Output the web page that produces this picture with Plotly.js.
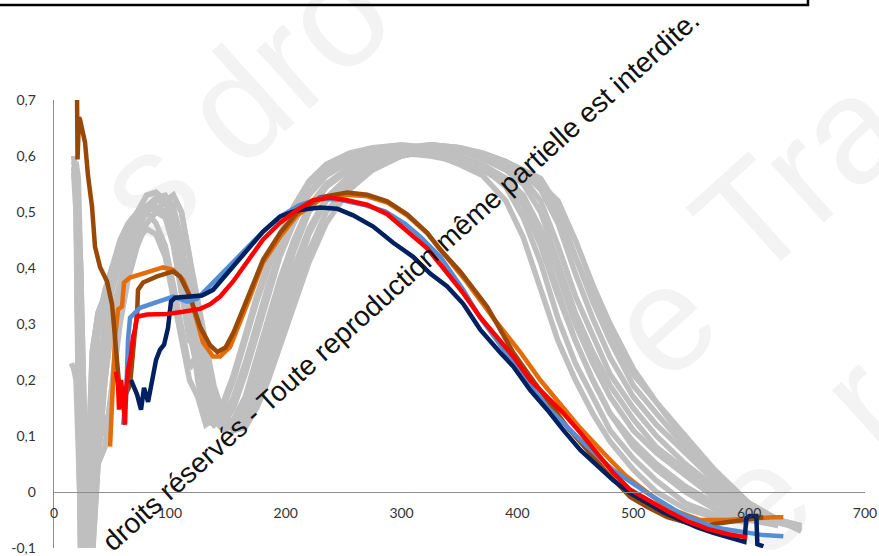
<!DOCTYPE html>
<html><head><meta charset="utf-8">
<script src="https://cdn.plot.ly/plotly-3.0.1.min.js"></script>
<style>html,body{margin:0;padding:0;background:#fff}#chart{width:879px;height:556px}</style>
</head><body><div id="chart"></div>
<script>
// ---- axis ticks ----
const xTickVals = [0, 100, 200, 300, 400, 500, 600, 700];
const xTickText = ['0', '100', '200', '300', '400', '500', '600', '700'];
const yTickVals = [-0.1, 0, 0.1, 0.2, 0.3, 0.4, 0.5, 0.6, 0.7];
const yTickText = ['-0,1', '0', '0,1', '0,2', '0,3', '0,4', '0,5', '0,6', '0,7'];

// ---- highlighted series ----
const brownX = [19, 19.9, 20.3, 21.6, 22.5, 26.8, 29.4, 32.8, 35.4, 39.7, 45.8, 50.1, 52.7, 55.3, 57.0, 60.5, 65.6, 70.0, 71.7, 72.5, 76.9, 88.9, 102.8, 108.8, 117.4, 126.1, 134.7, 141, 148, 155, 162, 169, 180.5, 195.2, 209.8, 229.7, 253, 270.3, 287.6, 304.8, 322.1, 333.3, 350.6, 373.9, 396.4, 411, 425.7, 443, 460.3, 477.5, 497.4, 512.1, 529.4, 546.6, 563.9, 581.2, 598.4, 612.3];
const brownY = [0.716, 0.701, 0.594, 0.669, 0.665, 0.624, 0.564, 0.51, 0.438, 0.402, 0.376, 0.335, 0.277, 0.218, 0.174, 0.168, 0.191, 0.29, 0.317, 0.361, 0.374, 0.385, 0.394, 0.385, 0.349, 0.295, 0.262, 0.25, 0.258, 0.285, 0.32, 0.358, 0.415, 0.463, 0.499, 0.526, 0.535, 0.531, 0.519, 0.496, 0.463, 0.433, 0.394, 0.331, 0.249, 0.206, 0.165, 0.116, 0.075, 0.034, -0.009, -0.027, -0.045, -0.055, -0.059, -0.054, -0.047, -0.045];

const orangeX = [48.4, 50.1, 52.7, 55.3, 58.7, 60.4, 65.6, 82.9, 94.1, 102.8, 111.4, 117.4, 123.5, 128.7, 137.3, 143.4, 152, 160.6, 169.3, 180.5, 195.2, 209.8, 229.7, 253, 270.3, 287.6, 304.8, 322.1, 339.4, 356.6, 379.1, 402.4, 419.7, 436.9, 454.2, 477.5, 493.1, 506, 520.7, 534.5, 557.9, 581.2, 598.4, 620.9, 629.5];
const orangeY = [0.081, 0.159, 0.277, 0.326, 0.331, 0.374, 0.383, 0.394, 0.401, 0.397, 0.379, 0.349, 0.308, 0.267, 0.242, 0.242, 0.259, 0.302, 0.349, 0.41, 0.456, 0.494, 0.522, 0.531, 0.528, 0.517, 0.494, 0.462, 0.419, 0.374, 0.311, 0.25, 0.2, 0.156, 0.114, 0.063, 0.03, 0.009, -0.014, -0.032, -0.05, -0.05, -0.047, -0.045, -0.045];

const blueX = [59.6, 62.2, 63.9, 65.6, 74.3, 88.9, 102.8, 114.9, 123.5, 137.3, 152, 166.7, 180.5, 195.2, 212.4, 229.7, 246.9, 266.8, 285.8, 303.1, 316.1, 333.3, 353.2, 367.9, 396.4, 425.7, 454.2, 482.7, 512.1, 540.6, 569.1, 598.4, 612.3, 629.5];
const blueY = [0.12, 0.165, 0.272, 0.311, 0.329, 0.34, 0.349, 0.34, 0.345, 0.374, 0.406, 0.436, 0.465, 0.492, 0.513, 0.524, 0.522, 0.513, 0.501, 0.479, 0.456, 0.42, 0.361, 0.311, 0.231, 0.152, 0.093, 0.039, -0.002, -0.038, -0.063, -0.073, -0.077, -0.079];

const navyX = [66.5, 71.7, 75.1, 77.7, 81.2, 84.6, 88.1, 91.5, 95, 98.4, 101, 104.5, 117.4, 127.8, 137.3, 152, 166.7, 180.5, 195.2, 209.8, 229.7, 244.4, 258.2, 275.5, 292.8, 310, 324.7, 339.4, 353.2, 367.9, 385.1, 396.4, 411, 425.7, 439.5, 454.2, 468.9, 482.7, 497.4, 512.1, 525.9, 540.6, 555.3, 569.1, 583.8, 595.9, 597.6, 600.2, 606.2, 607.1, 612.3];
const navyY = [0.2, 0.174, 0.147, 0.186, 0.161, 0.2, 0.236, 0.254, 0.263, 0.293, 0.34, 0.347, 0.349, 0.351, 0.361, 0.397, 0.433, 0.465, 0.492, 0.503, 0.508, 0.506, 0.494, 0.474, 0.445, 0.42, 0.39, 0.367, 0.336, 0.29, 0.249, 0.224, 0.182, 0.147, 0.111, 0.075, 0.047, 0.021, -0.002, -0.02, -0.036, -0.05, -0.063, -0.073, -0.082, -0.089, -0.047, -0.043, -0.043, -0.093, -0.097];

const redX = [53.5, 55.3, 56.1, 57.9, 59.6, 61.3, 62.2, 63.9, 66.5, 68.2, 69.9, 71.7, 80.3, 97.6, 111.4, 126.1, 134.7, 143.4, 154.6, 166.7, 180.5, 195.2, 209.8, 223.7, 238.3, 253, 270.3, 287.6, 304.8, 322.1, 335.9, 353.2, 367.9, 382.6, 396.4, 411, 425.7, 439.5, 454.2, 468.9, 482.7, 497.4, 512.1, 529.4, 546.6, 563.9, 581.2, 598.4];
const redY = [0.215, 0.191, 0.147, 0.2, 0.165, 0.12, 0.182, 0.218, 0.245, 0.277, 0.29, 0.313, 0.317, 0.318, 0.322, 0.327, 0.335, 0.349, 0.376, 0.411, 0.451, 0.481, 0.504, 0.521, 0.526, 0.521, 0.513, 0.496, 0.465, 0.435, 0.4, 0.355, 0.312, 0.277, 0.242, 0.2, 0.17, 0.141, 0.106, 0.07, 0.034, 0.004, -0.014, -0.034, -0.052, -0.066, -0.075, -0.081];

// ---- grey (other) series: shared x grid, early part + main hump ----
const grayX = [15, 17, 19, 21, 23, 26, 29, 33, 38, 44, 50, 57, 64, 72, 80, 88, 96, 103, 110, 117,
  124, 131, 138, 146, 155, 165, 175, 185, 195, 207, 220, 235, 255, 275, 300, 325, 350, 370, 390, 405, 420, 435, 450, 465, 480, 500, 520, 545, 570, 600, 625, 645];

const grayStartA  = [null, 0.6, 0.57, 0.45, 0.1, -0.15, -0.15, 0.1, 0.3, 0.36, 0.4, 0.43, 0.46, 0.49, 0.51, 0.52, 0.52, 0.5, 0.42, 0.3];
const grayStartA2 = [null, null, 0.59, 0.56, 0.4, 0.0, -0.15, -0.05, 0.2, 0.3, 0.36, 0.41, 0.45, 0.48, 0.51, 0.525, 0.53, 0.51, 0.45, 0.35];
const grayStartB  = [null, 0.58, 0.55, 0.2, -0.12, -0.15, 0.05, 0.25, 0.32, 0.35, 0.38, 0.42, 0.46, 0.5, 0.53, 0.535, 0.52, 0.47, 0.38, 0.28];
const grayStartB2 = [null, 0.57, 0.5, 0.15, -0.1, -0.14, 0.0, 0.18, 0.28, 0.34, 0.4, 0.45, 0.48, 0.5, 0.5, 0.48, 0.44, 0.37, 0.3, 0.22];
const grayStartC  = [0.23, 0.22, 0.2, 0.1, -0.05, -0.12, -0.05, 0.15, 0.2, 0.1, 0.18, 0.3, 0.38, 0.44, 0.48, 0.5, 0.49, 0.44, 0.36, 0.27];
const grayStartD  = [null, 0.57, 0.55, 0.5, 0.3, -0.05, -0.15, -0.1, 0.15, 0.25, 0.32, 0.38, 0.43, 0.47, 0.5, 0.51, 0.5, 0.46, 0.38, 0.3];
const grayStartE  = [null, null, 0.55, 0.5, 0.4, 0.1, -0.1, -0.12, 0.05, 0.2, 0.3, 0.35, 0.4, 0.45, 0.48, 0.5, 0.52, 0.53, 0.5, 0.42];
const grayStartF  = [null, 0.59, 0.56, 0.35, 0.0, -0.13, -0.08, 0.12, 0.05, 0.08, 0.2, 0.32, 0.4, 0.45, 0.47, 0.46, 0.42, 0.35, 0.27, 0.2];

const grayHumpL   = [0.2, 0.13, 0.12, 0.15, 0.2, 0.27, 0.34, 0.4, 0.455, 0.51, 0.55, 0.58, 0.6, 0.61, 0.61, 0.605, 0.585, 0.565, 0.52, 0.455, 0.36, 0.27, 0.2, 0.14, 0.09, 0.04, 0.0, -0.03, -0.045, -0.055, null, null];
const grayHumpL2  = [0.17, 0.12, 0.13, 0.16, 0.21, 0.28, 0.35, 0.41, 0.46, 0.51, 0.555, 0.585, 0.605, 0.615, 0.62, 0.615, 0.6, 0.58, 0.545, 0.49, 0.41, 0.31, 0.23, 0.17, 0.11, 0.06, 0.02, -0.02, -0.04, -0.05, null, null];
const grayHumpML  = [0.22, 0.15, 0.12, 0.13, 0.17, 0.23, 0.3, 0.37, 0.43, 0.49, 0.535, 0.57, 0.595, 0.61, 0.615, 0.615, 0.6, 0.585, 0.56, 0.52, 0.45, 0.36, 0.27, 0.2, 0.14, 0.08, 0.04, 0.0, -0.03, -0.05, -0.06, null];
const grayHumpML2 = [0.25, 0.17, 0.13, 0.12, 0.15, 0.21, 0.28, 0.35, 0.42, 0.48, 0.53, 0.565, 0.59, 0.6, 0.605, 0.6, 0.59, 0.575, 0.55, 0.51, 0.44, 0.35, 0.27, 0.2, 0.14, 0.09, 0.05, 0.01, -0.02, -0.045, -0.055, null];
const grayHumpM   = [0.26, 0.19, 0.14, 0.12, 0.13, 0.17, 0.24, 0.31, 0.38, 0.45, 0.51, 0.55, 0.58, 0.6, 0.61, 0.615, 0.61, 0.595, 0.575, 0.55, 0.5, 0.41, 0.32, 0.25, 0.19, 0.13, 0.08, 0.04, 0.0, -0.035, -0.055, null];
const grayHumpM2  = [0.28, 0.2, 0.15, 0.12, 0.12, 0.15, 0.21, 0.28, 0.35, 0.43, 0.5, 0.545, 0.58, 0.6, 0.615, 0.62, 0.615, 0.6, 0.58, 0.56, 0.52, 0.44, 0.35, 0.28, 0.21, 0.15, 0.1, 0.05, 0.01, -0.03, -0.05, -0.06];
const grayHumpM3  = [0.24, 0.17, 0.13, 0.11, 0.12, 0.16, 0.22, 0.29, 0.36, 0.44, 0.5, 0.545, 0.575, 0.595, 0.605, 0.605, 0.595, 0.58, 0.56, 0.53, 0.47, 0.39, 0.3, 0.23, 0.17, 0.11, 0.07, 0.03, -0.01, -0.04, -0.06, null];
const grayHumpMR  = [0.3, 0.22, 0.16, 0.13, 0.12, 0.14, 0.19, 0.25, 0.32, 0.4, 0.47, 0.525, 0.565, 0.59, 0.61, 0.62, 0.615, 0.605, 0.59, 0.57, 0.54, 0.48, 0.39, 0.31, 0.24, 0.17, 0.12, 0.07, 0.02, -0.025, -0.05, -0.065];
const grayHumpMR2 = [0.32, 0.24, 0.18, 0.14, 0.12, 0.13, 0.17, 0.23, 0.3, 0.38, 0.46, 0.52, 0.56, 0.585, 0.6, 0.61, 0.61, 0.6, 0.585, 0.565, 0.545, 0.5, 0.42, 0.34, 0.27, 0.19, 0.14, 0.08, 0.03, -0.02, -0.05, -0.06];
const grayHumpR   = [0.34, 0.26, 0.19, 0.14, 0.11, 0.12, 0.16, 0.21, 0.27, 0.35, 0.43, 0.5, 0.55, 0.585, 0.61, 0.62, 0.615, 0.605, 0.59, 0.575, 0.56, 0.51, 0.42, 0.35, 0.29, 0.21, 0.16, 0.09, 0.03, -0.03, -0.055, -0.065];
const grayHumpR2  = [0.33, 0.25, 0.18, 0.13, 0.11, 0.115, 0.15, 0.2, 0.26, 0.33, 0.41, 0.48, 0.54, 0.575, 0.6, 0.61, 0.61, 0.6, 0.585, 0.57, 0.55, 0.52, 0.45, 0.37, 0.3, 0.22, 0.16, 0.1, 0.04, -0.02, -0.05, -0.07];

const grayPairs = [
  [grayStartA, grayHumpL], [grayStartB, grayHumpML], [grayStartC, grayHumpM],
  [grayStartD, grayHumpMR], [grayStartE, grayHumpR], [grayStartF, grayHumpL2],
  [grayStartA2, grayHumpM2], [grayStartB2, grayHumpML2], [grayStartB, grayHumpMR2],
  [grayStartA, grayHumpR2], [grayStartE, grayHumpM3]
];

// ---- styling ----
const GRAY = '#BFBFBF';
const traces = [];
grayPairs.forEach(function (p) {
  const ys = p[0].concat(p[1]);
  if (ys.length !== grayX.length) throw new Error('gray length mismatch ' + ys.length);
  traces.push({type: 'scatter', mode: 'lines', x: grayX, y: ys, line: {color: GRAY, width: 5.5}, hoverinfo: 'skip', connectgaps: false});
});
const colored = [
  [orangeX, orangeY, '#E46C0A'],
  [brownX, brownY, '#984807'],
  [blueX, blueY, '#558ED5'],
  [navyX, navyY, '#002060'],
  [redX, redY, '#FF0000']
];
colored.forEach(function (c) {
  if (c[0].length !== c[1].length) throw new Error('colored length mismatch ' + c[2]);
  traces.push({type: 'scatter', mode: 'lines', x: c[0], y: c[1], line: {color: c[2], width: 4.5}, hoverinfo: 'skip'});
});

// faint background watermark
const wmSvg = "<svg xmlns='http://www.w3.org/2000/svg' width='879' height='556'>" +
  "<g fill='#f3f3f3' font-family='Liberation Sans, Arial, sans-serif' font-size='150'>" +
  "<text transform='translate(153,250) rotate(-42)'>s dro</text>" +
  "<text transform='translate(752,287) rotate(-42)'>Tra</text>" +
  "<text text-anchor='middle' transform='translate(696,359) rotate(-42)'>e</text>" +
  "<text text-anchor='middle' transform='translate(791,539) rotate(-42)'>e</text>" +
  "<text text-anchor='middle' transform='translate(896,439) rotate(-42)'>r</text>" +
  "</g></svg>";

const tickFont = {family: 'Lato, "Open Sans", sans-serif', size: 14, color: '#333333'};

const layout = {
  width: 879, height: 556,
  margin: {l: 54, r: 14, t: 100, b: 8, pad: 0},
  paper_bgcolor: '#ffffff', plot_bgcolor: 'rgba(0,0,0,0)',
  showlegend: false,
  font: {family: 'Lato, "Open Sans", sans-serif', size: 14, color: '#333333'},
  xaxis: {
    range: [0, 700], tickvals: xTickVals, ticktext: xTickText,
    showgrid: false, zeroline: false, showline: true, linecolor: '#8c8c8c', linewidth: 1.3,
    ticks: '', anchor: 'free', position: 0.125, ticklabelstandoff: 8,
    tickfont: tickFont
  },
  yaxis: {
    range: [-0.1, 0.7], tickvals: yTickVals, ticktext: yTickText,
    showgrid: false, zeroline: false, showline: true, linecolor: '#8c8c8c', linewidth: 1.3,
    ticks: '', ticklabelstandoff: 14,
    tickfont: tickFont
  },
  images: [{
    source: 'data:image/svg+xml;charset=utf-8,' + encodeURIComponent(wmSvg),
    xref: 'paper', yref: 'paper', x: -54 / 811, y: 1 + 100 / 448,
    sizex: 879 / 811, sizey: 556 / 448, xanchor: 'left', yanchor: 'top',
    sizing: 'stretch', layer: 'below'
  }],
  shapes: [{
    type: 'rect', xref: 'paper', yref: 'paper', x0: -0.08, x1: 0.9297, y0: 1.2121, y1: 1.3,
    line: {color: '#000000', width: 2.5}, fillcolor: 'rgba(0,0,0,0)', layer: 'above'
  }],
  annotations: [{
    xref: 'paper', yref: 'paper', x: 0.428, y: 0.597, showarrow: false,
    text: 'droits réservés - Toute reproduction même partielle est interdite.',
    textangle: -42, xanchor: 'center', yanchor: 'middle',
    font: {family: '"Liberation Sans", Arial, sans-serif', size: 28, color: '#111111'}
  }]
};

Plotly.newPlot('chart', traces, layout, {staticPlot: true, displayModeBar: false});
</script></body></html>
